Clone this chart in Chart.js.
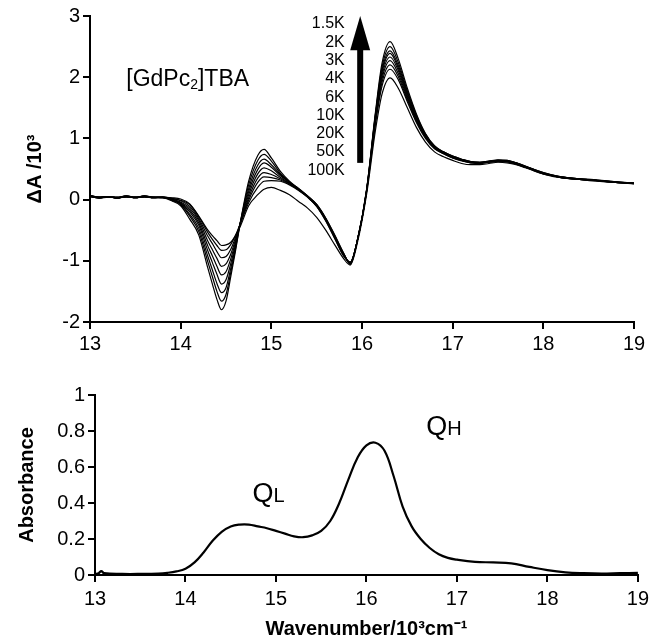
<!DOCTYPE html>
<html>
<head>
<meta charset="utf-8">
<script src="https://cdn.jsdelivr.net/npm/chart.js@4.4.1/dist/chart.umd.min.js"></script>
<style>
  body { margin: 0; background: #fff; }
  #wrap { position: relative; width: 654px; height: 644px; }
  #mcdChart { position: absolute; left: 0; top: 0; }
  #absChart { position: absolute; left: 0; top: 365px; }
</style>
</head>
<body>
<div id="wrap">
  <canvas id="mcdChart" width="654" height="365"></canvas>
  <canvas id="absChart" width="654" height="279"></canvas>
</div>
<script>
// MCD spectra, one curve per temperature (x in 10^3 cm-1)
var wavenumbers = [13.0,13.1,13.2,13.3,13.4,13.5,13.6,13.7,13.8,13.9,
  14.0,14.1,14.2,14.3,14.35,14.4,14.45,14.5,14.55,14.6,
  14.66,14.75,14.85,14.92,
  15.0,15.1,15.2,15.3,15.4,15.5,15.6,15.7,15.8,
  15.87,15.95,16.05,16.15,16.22,16.31,
  16.4,16.5,16.6,16.7,16.8,16.9,17.0,17.1,17.2,17.3,17.4,17.5,17.6,17.7,17.8,17.9,18.0,18.1,18.2,
  18.4,18.6,18.8,19.0];

var temps = ['1.5K','2K','3K','4K','6K','10K','20K','50K','100K'];

var mcd1_5K = [0.07,0.03,0.05,0.02,0.06,0.03,0.06,0.04,0.03,-0.02,
  -0.10,-0.32,-0.58,-1.12,-1.38,-1.63,-1.80,-1.66,-1.28,-0.88,
  -0.36,0.30,0.72,0.82,
  0.68,0.46,0.30,0.18,0.06,-0.08,-0.30,-0.58,-0.88,
  -1.06,-0.66,0.16,1.45,2.22,2.58,
  2.30,1.82,1.40,1.08,0.88,0.78,0.71,0.66,0.62,0.61,0.63,0.65,0.64,0.60,0.55,0.49,0.44,0.40,0.37,
  0.34,0.32,0.29,0.27];
var mcd2K = [0.06,0.04,0.04,0.03,0.05,0.04,0.05,0.03,0.04,-0.01,
  -0.08,-0.27,-0.52,-1.02,-1.26,-1.50,-1.66,-1.55,-1.21,-0.84,
  -0.36,0.24,0.64,0.74,
  0.63,0.43,0.29,0.18,0.06,-0.08,-0.31,-0.59,-0.89,
  -1.05,-0.66,0.15,1.42,2.16,2.50,
  2.24,1.78,1.38,1.07,0.87,0.78,0.71,0.66,0.62,0.61,0.63,0.64,0.64,0.60,0.55,0.49,0.44,0.40,0.37,
  0.34,0.31,0.29,0.27];
var mcd3K = [0.05,0.03,0.05,0.04,0.05,0.03,0.06,0.03,0.03,0.00,
  -0.07,-0.24,-0.47,-0.93,-1.15,-1.37,-1.52,-1.44,-1.14,-0.80,
  -0.36,0.18,0.56,0.66,
  0.57,0.41,0.28,0.17,0.05,-0.09,-0.31,-0.60,-0.89,
  -1.04,-0.66,0.15,1.40,2.11,2.43,
  2.19,1.75,1.36,1.06,0.87,0.77,0.70,0.65,0.62,0.61,0.62,0.64,0.63,0.60,0.54,0.49,0.43,0.40,0.37,
  0.34,0.32,0.28,0.27];
var mcd4K = [0.06,0.02,0.04,0.03,0.06,0.04,0.05,0.04,0.04,0.00,
  -0.06,-0.20,-0.42,-0.84,-1.03,-1.22,-1.38,-1.31,-1.06,-0.76,
  -0.37,0.13,0.49,0.60,
  0.53,0.39,0.28,0.17,0.05,-0.09,-0.32,-0.61,-0.90,
  -1.04,-0.66,0.14,1.38,2.07,2.39,
  2.15,1.72,1.34,1.05,0.86,0.77,0.70,0.65,0.61,0.60,0.62,0.64,0.63,0.59,0.54,0.48,0.43,0.39,0.37,
  0.33,0.31,0.29,0.26];
var mcd6K = [0.05,0.04,0.05,0.02,0.05,0.03,0.05,0.03,0.03,0.01,
  -0.05,-0.17,-0.38,-0.76,-0.92,-1.09,-1.23,-1.18,-0.98,-0.72,
  -0.37,0.08,0.42,0.52,
  0.47,0.36,0.27,0.17,0.05,-0.10,-0.33,-0.62,-0.90,
  -1.03,-0.66,0.14,1.35,2.02,2.33,
  2.11,1.69,1.32,1.04,0.86,0.76,0.69,0.65,0.61,0.60,0.62,0.63,0.63,0.59,0.54,0.48,0.43,0.39,0.36,
  0.34,0.31,0.28,0.27];
var mcd10K = [0.06,0.03,0.04,0.03,0.04,0.04,0.06,0.04,0.04,0.01,
  -0.04,-0.14,-0.34,-0.68,-0.82,-0.96,-1.09,-1.05,-0.90,-0.68,
  -0.38,0.03,0.35,0.44,
  0.41,0.34,0.26,0.16,0.04,-0.10,-0.33,-0.62,-0.91,
  -1.03,-0.66,0.13,1.32,1.97,2.27,
  2.06,1.66,1.30,1.03,0.85,0.76,0.69,0.64,0.61,0.60,0.61,0.63,0.62,0.59,0.54,0.48,0.43,0.39,0.36,
  0.33,0.31,0.29,0.26];
var mcd20K = [0.07,0.04,0.05,0.03,0.05,0.03,0.05,0.03,0.04,0.02,
  -0.02,-0.11,-0.31,-0.60,-0.72,-0.85,-0.95,-0.93,-0.82,-0.64,
  -0.38,-0.01,0.28,0.37,
  0.36,0.32,0.25,0.16,0.04,-0.11,-0.34,-0.63,-0.92,
  -1.02,-0.66,0.13,1.29,1.91,2.20,
  2.01,1.63,1.28,1.02,0.84,0.75,0.68,0.64,0.60,0.60,0.61,0.63,0.62,0.58,0.53,0.48,0.42,0.39,0.36,
  0.33,0.31,0.28,0.27];
var mcd50K = [0.05,0.03,0.04,0.04,0.06,0.04,0.05,0.04,0.03,0.02,
  -0.01,-0.08,-0.28,-0.54,-0.65,-0.75,-0.83,-0.82,-0.74,-0.60,
  -0.39,-0.05,0.20,0.30,
  0.31,0.30,0.24,0.15,0.04,-0.11,-0.35,-0.64,-0.93,
  -1.02,-0.66,0.12,1.25,1.85,2.13,
  1.96,1.60,1.26,1.00,0.83,0.75,0.68,0.63,0.60,0.59,0.61,0.62,0.62,0.58,0.53,0.47,0.42,0.39,0.36,
  0.33,0.30,0.28,0.26];
var mcd100K = [0.06,0.04,0.05,0.03,0.05,0.03,0.04,0.03,0.04,0.03,
  0.01,-0.07,-0.27,-0.50,-0.59,-0.67,-0.75,-0.74,-0.70,-0.60,
  -0.43,-0.10,0.08,0.17,
  0.20,0.15,0.08,-0.03,-0.14,-0.29,-0.50,-0.74,-0.97,
  -1.07,-0.70,0.08,1.15,1.72,1.99,
  1.82,1.50,1.18,0.94,0.78,0.70,0.64,0.59,0.57,0.57,0.59,0.61,0.60,0.57,0.52,0.47,0.42,0.38,0.36,
  0.33,0.31,0.28,0.26];

var mcdSeries = [mcd1_5K, mcd2K, mcd3K, mcd4K, mcd6K, mcd10K, mcd20K, mcd50K, mcd100K];
var mcdTicks = [-2, -1, 0, 1, 2, 3];

// absorption spectrum
var absWavenumbers = [13.0,13.04,13.07,13.1,13.3,13.5,13.7,13.8,13.9,14.0,
  14.1,14.2,14.3,14.4,14.5,14.6,14.7,14.8,14.9,15.0,
  15.1,15.2,15.3,15.4,15.5,15.6,15.7,15.8,15.9,16.0,
  16.1,16.2,16.3,16.4,16.5,16.6,16.7,16.8,16.9,17.0,
  17.2,17.4,17.6,17.8,18.0,18.2,18.4,18.6,18.8,19.0];
var absorbance = [0.005,0.01,0.022,0.01,0.006,0.006,0.008,0.012,0.02,0.035,
  0.07,0.125,0.19,0.24,0.27,0.28,0.28,0.27,0.26,0.245,
  0.23,0.215,0.21,0.22,0.245,0.30,0.40,0.53,0.65,0.72,
  0.735,0.69,0.55,0.38,0.27,0.20,0.15,0.115,0.095,0.085,
  0.073,0.07,0.065,0.045,0.027,0.015,0.01,0.008,0.01,0.012];

var FONT = "'Liberation Sans', Arial, sans-serif";
Chart.defaults.font.family = FONT;
Chart.defaults.color = '#000';

function toPoints(xs, ys) {
    return xs.map(function (x, i) { return {x: x, y: ys[i]}; });
}

function plainNumber(v) {
    return String(Math.round(v * 10) / 10);
}

function axis(extra) {
    var a = {
        type: 'linear',
        grid: {drawOnChartArea: false, color: '#000', lineWidth: 2, tickLength: 7},
        border: {color: '#000', width: 2}
    };
    for (var k in extra) { a[k] = extra[k]; }
    return a;
}

// text made of parts of different size: parts = [[text, size, dy], ...]
function drawParts(ctx, parts, x, y) {
    ctx.textAlign = 'left';
    ctx.textBaseline = 'alphabetic';
    parts.forEach(function (p) {
        ctx.font = p[1] + 'px ' + FONT;
        ctx.fillText(p[0], x, y + p[2]);
        x += ctx.measureText(p[0]).width;
    });
}

var mcdNotes = {
    id: 'mcdNotes',
    afterDatasetsDraw: function (chart) {
        var ctx = chart.ctx, xs = chart.scales.x, ys = chart.scales.y;
        ctx.save();
        ctx.fillStyle = '#000';
        drawParts(ctx, [['[GdPc', 23, 0], ['2', 14, 3], [']TBA', 23, 0]],
            xs.getPixelForValue(13.4), ys.getPixelForValue(1.85));

        // temperature list
        ctx.font = '16px ' + FONT;
        ctx.textAlign = 'right';
        ctx.textBaseline = 'middle';
        var lx = xs.getPixelForValue(15.81);
        var ly = ys.getPixelForValue(2.87);
        temps.forEach(function (t, i) { ctx.fillText(t, lx, ly + i * 18.3); });

        // arrow
        var ax = xs.getPixelForValue(15.98);
        var tip = ys.getPixelForValue(3.0);
        var base = ys.getPixelForValue(2.44);
        var tail = ys.getPixelForValue(0.6);
        ctx.fillRect(ax - 3, base - 1, 6, tail - base + 1);
        ctx.beginPath();
        ctx.moveTo(ax, tip);
        ctx.lineTo(ax + 10, base);
        ctx.lineTo(ax - 10, base);
        ctx.closePath();
        ctx.fill();
        ctx.restore();
    }
};

var absNotes = {
    id: 'absNotes',
    afterDatasetsDraw: function (chart) {
        var ctx = chart.ctx, xs = chart.scales.x, ys = chart.scales.y;
        ctx.save();
        ctx.fillStyle = '#000';
        drawParts(ctx, [['Q', 27, 0], ['L', 20, 0]], xs.getPixelForValue(14.74), ys.getPixelForValue(0.407));
        drawParts(ctx, [['Q', 27, 0], ['H', 20, 0]], xs.getPixelForValue(16.66), ys.getPixelForValue(0.778));
        ctx.restore();
    }
};

var mcdData = {
    datasets: mcdSeries.map(function (s, i) {
        return {
            label: temps[i],
            data: toPoints(wavenumbers, s),
            borderColor: '#000',
            borderWidth: 1.2,
            pointRadius: 0,
            cubicInterpolationMode: 'monotone',
            fill: false
        };
    })
};

new Chart(document.getElementById('mcdChart'), {
    type: 'line',
    data: mcdData,
    options: {
        responsive: false,
        animation: false,
        devicePixelRatio: 1,
        layout: {padding: {left: 0, right: 20, top: 16, bottom: 0}},
        plugins: {legend: {display: false}, tooltip: {enabled: false}},
        scales: {
            x: axis({min: 13, max: 19,
                ticks: {stepSize: 1, font: {size: 20}, color: '#000', padding: 3, maxRotation: 0},
                afterFit: function (s) { s.height = 43; }}),
            y: axis({min: -2, max: 3,
                ticks: {font: {size: 20}, color: '#000', padding: 3},
                afterBuildTicks: function (s) { s.ticks = mcdTicks.map(function (v) { return {value: v}; }); },
                title: {display: true, text: 'ΔA /10³', font: {size: 20, weight: 'bold'}, padding: {top: 23, bottom: 0}},
                afterFit: function (s) { s.width = 90; }})
        }
    },
    plugins: [mcdNotes]
});

new Chart(document.getElementById('absChart'), {
    type: 'line',
    data: {
        datasets: [{
            label: 'Absorbance',
            data: toPoints(absWavenumbers, absorbance),
            borderColor: '#000',
            borderWidth: 2.2,
            pointRadius: 0,
            tension: 0.4,
            fill: false
        }]
    },
    options: {
        responsive: false,
        animation: false,
        devicePixelRatio: 1,
        layout: {padding: {left: 0, right: 16, top: 30, bottom: 0}},
        plugins: {legend: {display: false}, tooltip: {enabled: false}},
        scales: {
            x: axis({min: 13, max: 19,
                ticks: {stepSize: 1, font: {size: 20}, color: '#000', padding: 5, maxRotation: 0},
                title: {display: true, text: 'Wavenumber/10³cm⁻¹', font: {size: 20, weight: 'bold'}, padding: {top: 0, bottom: 3}},
                afterFit: function (s) { s.height = 69; }}),
            y: axis({min: 0, max: 1,
                ticks: {stepSize: 0.2, font: {size: 20}, color: '#000', padding: 3, callback: plainNumber},
                title: {display: true, text: 'Absorbance', font: {size: 20, weight: 'bold'}, padding: {top: 15, bottom: 0}},
                afterFit: function (s) { s.width = 95; }})
        }
    },
    plugins: [absNotes]
});
</script>
</body>
</html>
